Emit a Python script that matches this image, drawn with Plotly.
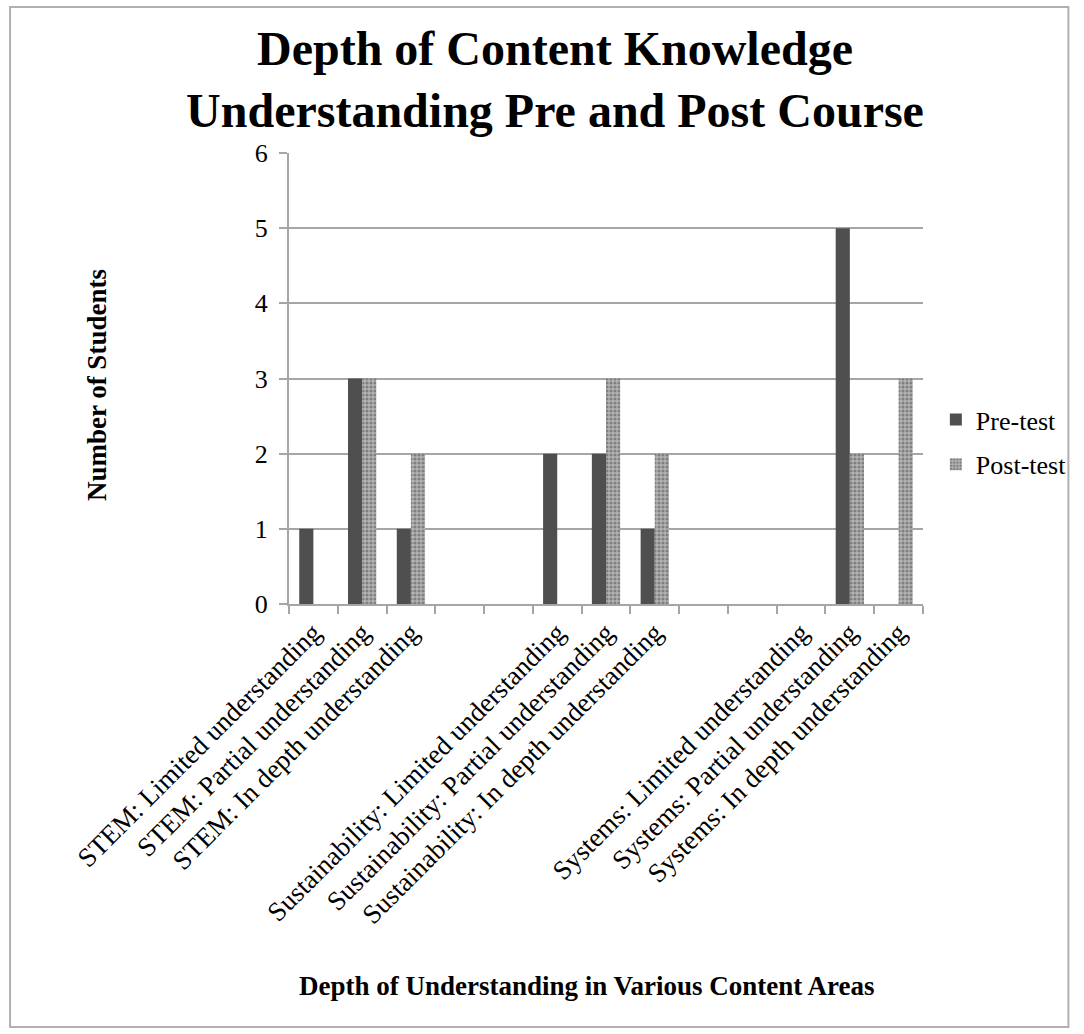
import plotly.graph_objects as go

categories = [
    "STEM: Limited understanding",
    "STEM: Partial understanding",
    "STEM: In depth understanding",
    " ",
    "  ",
    "Sustainability: Limited understanding",
    "Sustainability: Partial understanding",
    "Sustainability: In depth understanding",
    "   ",
    "    ",
    "Systems: Limited understanding",
    "Systems: Partial understanding",
    "Systems: In depth understanding",
]
pre_test = [1, 3, 1, None, None, 2, 2, 1, None, None, 0, 5, 0]
post_test = [0, 3, 2, None, None, 0, 3, 2, None, None, 0, 2, 3]
y_ticks = [0, 1, 2, 3, 4, 5, 6]

FONT = "Liberation Serif"
GRID = "#a6a6a6"

fig = go.Figure()
fig.add_trace(go.Bar(
    x=categories, y=pre_test, name="Pre-test",
    marker=dict(color="#4f4f4f", line=dict(width=0)),
    legendgroup="a",
))
fig.add_trace(go.Bar(
    x=categories, y=post_test, name="Post-test",
    marker=dict(color="#b4b4b4", line=dict(width=0),
                pattern=dict(shape=".", fgcolor="#4a4a4a", size=4, solidity=0.5)),
    legendgroup="b",
))

# page-level sizes (pixels)
W, H = 1084, 1034
L, R, T, B = 289, 154, 153, 430
pw, ph = W - L - R, H - T - B

def px_x(px):
    return (px - L) / pw

def px_y(py):
    return (H - B - py) / ph

fig.update_layout(
    width=W, height=H,
    margin=dict(l=L, r=R, t=T, b=B),
    paper_bgcolor="white", plot_bgcolor="white",
    font=dict(family=FONT, size=26, color="black"),
    barmode="group", bargap=0.42, bargroupgap=0,
    title=dict(
        text="Depth of Content Knowledge<br>Understanding Pre and Post Course",
        font=dict(family=FONT, size=48, color="black", weight="bold"),
        x=555 / W, xanchor="center", xref="container",
        y=1 - 65 / H, yanchor="middle", yref="container",
    ),
    showlegend=True,
    legend=dict(
        x=px_x(943), xanchor="left", y=px_y(396), yanchor="top",
        font=dict(family=FONT, size=26, color="black"),
        traceorder="grouped", tracegroupgap=8,
        bgcolor="rgba(0,0,0,0)", itemwidth=30,
    ),
    xaxis=dict(
        type="category", categoryorder="array", categoryarray=categories,
        tickson="boundaries", ticks="outside", ticklen=8, tickwidth=2, tickcolor=GRID,
        showline=True, linecolor=GRID, linewidth=2, showgrid=False,
        tickangle=-45, tickfont=dict(family=FONT, size=27),
        automargin=False, range=[-0.5, 12.5],
    ),
    yaxis=dict(
        range=[0, 6], tickvals=y_ticks, ticks="outside", ticklen=8, tickwidth=2,
        tickcolor=GRID, showline=True, linecolor=GRID, linewidth=2,
        showgrid=True, gridcolor=GRID, gridwidth=2, zeroline=False,
        tickfont=dict(family=FONT, size=26), ticklabelstandoff=6,
        automargin=False,
    ),
    annotations=[
        dict(text="Number of Students", textangle=-90, showarrow=False,
             xref="paper", yref="paper", x=px_x(95), y=px_y(385),
             xanchor="center", yanchor="middle",
             font=dict(family=FONT, size=27, weight="bold")),
        dict(text="Depth of Understanding in Various Content Areas", showarrow=False,
             xref="paper", yref="paper", x=px_x(590), y=px_y(986),
             xanchor="center", yanchor="middle",
             font=dict(family=FONT, size=27, weight="bold")),
    ],
    shapes=[
        dict(type="rect", xref="paper", yref="paper",
             x0=px_x(7), x1=px_x(1077), y0=px_y(1027), y1=px_y(7),
             line=dict(color="#b0b0b0", width=2), fillcolor="rgba(0,0,0,0)",
             layer="below"),
    ],
)

fig.write_html("out.html")
